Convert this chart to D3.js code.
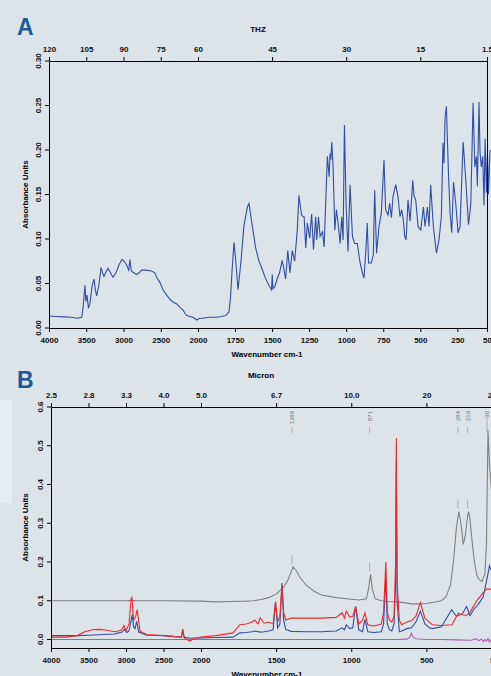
<!DOCTYPE html>
<html>
<head>
<meta charset="utf-8">
<script src="https://cdn.jsdelivr.net/npm/d3@7"></script>
<style>
  body { margin: 0; background: #dce3e9; }
  svg { display: block; font-family: "Liberation Sans", Arial, sans-serif; }
</style>
</head>
<body>
<svg id="chart" width="491" height="676"></svg>
<script>
// ---- panel A data (wavenumber cm-1, absorbance) ----
var aWave = [4000, 3900, 3800, 3700, 3620, 3560, 3540, 3517, 3505, 3490, 3470, 3450, 3420, 3396, 3375, 3360, 3330,
  3302, 3280, 3262, 3235, 3208, 3175, 3141, 3100, 3060, 3020, 2990, 2960, 2930, 2913, 2895, 2860, 2823, 2790, 2757,
  2700, 2622, 2580, 2555, 2510, 2470, 2420, 2376, 2330, 2286, 2240, 2201, 2170, 2152, 2110, 2067, 2017, 1990, 1971,
  1920, 1881, 1840, 1814, 1791, 1780, 1770, 1757, 1745, 1730, 1710, 1690, 1667, 1656, 1635, 1611, 1590, 1567, 1545,
  1522, 1504, 1499, 1494, 1480, 1466, 1450, 1432, 1420, 1409, 1394, 1380, 1364, 1348, 1330, 1319, 1301, 1290, 1284,
  1273, 1262, 1246, 1233, 1221, 1206, 1199, 1187, 1176, 1160, 1149, 1127, 1115, 1109, 1104, 1097, 1088, 1077, 1066,
  1055, 1041, 1030, 1021, 1012, 1001, 988, 974, 958, 943, 925, 907, 891, 880, 867, 858, 849, 831, 817, 808, 795,
  779, 763, 745, 734, 718, 707, 695, 684, 666, 651, 637, 626, 617, 605, 596, 583, 569, 551, 542, 531, 515, 497,
  479, 468, 452, 441, 430, 412, 391, 374, 358, 347, 340, 333, 324, 310, 299, 288, 276, 261, 245, 232, 211, 193,
  175, 159, 144, 132, 121, 115, 104, 97, 88, 79, 70, 63, 54, 47, 40, 30];
var aAbs = [0.0135, 0.013, 0.0125, 0.012, 0.011, 0.012, 0.025, 0.048, 0.03, 0.037, 0.022, 0.028, 0.048, 0.055, 0.042, 0.036, 0.048,
  0.068, 0.062, 0.058, 0.063, 0.067, 0.062, 0.057, 0.062, 0.071, 0.077, 0.075, 0.071, 0.065, 0.077, 0.064, 0.062, 0.060, 0.062, 0.065,
  0.065, 0.064, 0.062, 0.057, 0.051, 0.043, 0.037, 0.032, 0.029, 0.027, 0.023, 0.020, 0.016, 0.014, 0.013, 0.012, 0.009, 0.011, 0.011,
  0.012, 0.012, 0.013, 0.014, 0.018, 0.035, 0.065, 0.096, 0.075, 0.043, 0.075, 0.115, 0.136, 0.140, 0.116, 0.090, 0.076, 0.066, 0.056,
  0.048, 0.043, 0.060, 0.044, 0.047, 0.055, 0.062, 0.076, 0.066, 0.055, 0.087, 0.062, 0.087, 0.075, 0.11, 0.149, 0.127, 0.125, 0.125,
  0.090, 0.118, 0.101, 0.128, 0.088, 0.125, 0.099, 0.125, 0.103, 0.108, 0.091, 0.193, 0.170, 0.196, 0.189, 0.209, 0.178, 0.110, 0.133,
  0.118, 0.095, 0.125, 0.099, 0.228, 0.140, 0.086, 0.161, 0.103, 0.095, 0.095, 0.074, 0.062, 0.056, 0.088, 0.118, 0.073, 0.073, 0.082, 0.155, 0.084,
  0.114, 0.129, 0.189, 0.133, 0.127, 0.140, 0.124, 0.148, 0.161, 0.148, 0.125, 0.133, 0.125, 0.103, 0.099, 0.144, 0.120, 0.166, 0.148, 0.144, 0.114, 0.110,
  0.136, 0.114, 0.136, 0.114, 0.161, 0.114, 0.084, 0.099, 0.125, 0.208, 0.185, 0.236, 0.249, 0.174, 0.129, 0.107, 0.164, 0.140, 0.107, 0.114, 0.209, 0.166,
  0.116, 0.140, 0.253, 0.181, 0.193, 0.159, 0.254, 0.197, 0.181, 0.193, 0.138, 0.213, 0.152, 0.197, 0.15, 0.2];

// ---- panel A axis labels ----
var aWaveTicks = [4000, 3500, 3000, 2500, 2000, 1750, 1500, 1250, 1000, 750, 500, 250, 50];
var aThzTicks = [120, 105, 90, 75, 60, 45, 30, 15, 1.5];
var aAbsTicks = [0, 0.05, 0.10, 0.15, 0.20, 0.25, 0.30];

// ---- panel B axis labels ----
var bWaveTicks = [4000, 3500, 3000, 2500, 2000, 1500, 1000, 500, 50];
var bMicronLabels = ["2.5", "2.8", "3.3", "4.0", "5.0", "6.7", "10.0", "20", "200"];
var bAbsTicks = [0, 0.1, 0.2, 0.3, 0.4, 0.5, 0.6];
var bPeaks = [1388, 871, 284, 219, 90];

// ---- panel B spectra ----
var grayWave = [4000, 3500, 3000, 2925, 2850, 2500, 2000, 1900, 1800, 1700, 1650, 1600, 1550, 1500, 1450, 1420, 1400, 1388,
  1370, 1340, 1300, 1250, 1200, 1100, 1000, 950, 900, 885, 871, 860, 840, 800, 760, 700, 650, 600, 550, 500, 450,
  400, 370, 340, 320, 300, 284, 270, 255, 240, 225, 219, 210, 195, 180, 165, 150, 130, 110, 100, 90, 80, 60, 40];
var grayAbs = [0.1, 0.1, 0.1, 0.101, 0.1, 0.1, 0.099, 0.097, 0.098, 0.099, 0.1, 0.103, 0.108, 0.117, 0.135, 0.155, 0.175, 0.187,
  0.18, 0.16, 0.14, 0.125, 0.115, 0.108, 0.104, 0.102, 0.105, 0.13, 0.168, 0.13, 0.105, 0.1, 0.098, 0.097, 0.095, 0.092, 0.092, 0.093, 0.096,
  0.1, 0.11, 0.14, 0.2, 0.29, 0.33, 0.3, 0.245, 0.27, 0.32, 0.33, 0.31, 0.25, 0.2, 0.167, 0.155, 0.15, 0.17, 0.25, 0.54, 0.45, 0.35, 0.3];

var redWave = [4000, 3800, 3650, 3550, 3450, 3350, 3250, 3150, 3100, 3060, 3027, 3000, 2960, 2933, 2920, 2900, 2870, 2850,
  2813, 2724, 2500, 2260, 2244, 2225, 2147, 2100, 2000, 1900, 1786, 1742, 1698, 1660, 1643, 1620, 1606, 1580, 1550, 1520,
  1504, 1490, 1475, 1461, 1450, 1436, 1400, 1300, 1200, 1100, 1061, 1045, 1033, 1010, 990, 971, 950, 925, 909, 890, 850,
  800, 785, 770, 760, 745, 730, 715, 705, 700, 695, 680, 665, 630, 600, 570, 540, 510, 480, 460, 400, 330, 288, 260, 233, 210,
  180, 155, 122, 100, 70, 40];
var redAbs = [0.006, 0.006, 0.01, 0.02, 0.025, 0.026, 0.024, 0.02, 0.022, 0.025, 0.036, 0.022, 0.04, 0.103, 0.11, 0.05, 0.06, 0.077,
  0.021, 0.013, 0.01, 0.006, 0.026, 0.004, -0.004, 0.002, 0.006, 0.01, 0.017, 0.038, 0.04, 0.045, 0.05, 0.04, 0.056, 0.042, 0.045, 0.04,
  0.098, 0.045, 0.06, 0.14, 0.07, 0.05, 0.055, 0.055, 0.055, 0.057, 0.069, 0.055, 0.073, 0.058, 0.06, 0.085, 0.04, 0.05, 0.069, 0.038, 0.035,
  0.04, 0.07, 0.2, 0.07, 0.05, 0.045, 0.06, 0.2, 0.52, 0.15, 0.05, 0.038, 0.045, 0.048, 0.06, 0.095, 0.055, 0.045, 0.038, 0.036, 0.038, 0.068, 0.064, 0.062, 0.07,
  0.09, 0.105, 0.12, 0.13, 0.13, 0.12];

var blueWave = [4000, 3800, 3650, 3500, 3300, 3150, 3100, 3060, 3020, 2990, 2960, 2916, 2900, 2880, 2858, 2830, 2724, 2500,
  2260, 2244, 2225, 2147, 2100, 2000, 1900, 1786, 1742, 1698, 1660, 1643, 1606, 1580, 1550, 1520, 1504, 1490, 1475, 1461,
  1450, 1436, 1400, 1300, 1200, 1100, 1061, 1045, 1033, 1010, 990, 971, 950, 925, 909, 890, 850, 800, 785, 770, 760, 745,
  730, 715, 705, 700, 695, 680, 665, 630, 600, 570, 540, 510, 480, 460, 400, 332, 300, 288, 260, 233, 210, 180, 155, 122,
  100, 80, 60, 40];
var blueAbs = [0.01, 0.01, 0.01, 0.011, 0.013, 0.014, 0.017, 0.018, 0.026, 0.018, 0.022, 0.064, 0.033, 0.028, 0.047, 0.019, 0.011, 0.01,
  0.006, 0.026, 0.006, 0.003, 0.004, 0.004, 0.005, 0.006, 0.017, 0.018, 0.02, 0.022, 0.019, 0.02, 0.022, 0.025, 0.095, 0.03, 0.04, 0.146,
  0.05, 0.026, 0.021, 0.02, 0.02, 0.022, 0.03, 0.025, 0.038, 0.028, 0.03, 0.085, 0.025, 0.02, 0.052, 0.02, 0.018, 0.02, 0.04, 0.16, 0.04, 0.025,
  0.022, 0.04, 0.15, 0.46, 0.1, 0.02, 0.022, 0.028, 0.03, 0.045, 0.073, 0.04, 0.03, 0.028, 0.033, 0.077, 0.06, 0.062, 0.066, 0.085, 0.062, 0.08, 0.09, 0.11,
  0.15, 0.19, 0.17, 0.15];

var purpleWave = [4000, 3000, 2000, 1500, 1000, 700, 630, 610, 600, 590, 570, 500, 400, 300, 200, 170, 150, 135, 120, 110, 100, 90, 80, 70, 60, 50, 40];
var purpleAbs = [0.0, 0.0, 0.0, 0.0, 0.0, 0.0, 0.001, 0.006, 0.016, 0.006, 0.002, 0.0, 0.0, -0.001, -0.002, 0.002, -0.003, 0.001, -0.006, 0.0, -0.004, 0.003, -0.007, 0.0, -0.005, 0.002, -0.006];

var svg = d3.select("#chart");

svg.append("rect").attr("x", 0).attr("y", 400).attr("width", 12).attr("height", 103).attr("fill", "#e7ecf0");

function panel(opt) {
  var g = svg.append("g");
  var x = d3.scaleLinear().domain([4000, 2000, 50]).range(opt.xr);
  var y = d3.scaleLinear().domain(opt.yd).range(opt.yr);

  // title letter
  g.append("text").attr("x", 17).attr("y", opt.letterY).text(opt.letter)
    .attr("font-size", 23).attr("font-weight", "bold").attr("fill", "#1c5a97");

  var clipId = "clip" + opt.letter;
  svg.append("clipPath").attr("id", clipId).append("rect")
    .attr("x", opt.xr[0]).attr("y", opt.yr[1]).attr("width", 491 - opt.xr[0]).attr("height", opt.yr[0] - opt.yr[1]);

  var line = d3.line().x(function(d) { return x(d[0]); }).y(function(d) { return y(d[1]); });
  opt.series.forEach(function(s) {
    g.append("path").datum(d3.zip(s.wave, s.abs)).attr("d", line)
      .attr("fill", "none").attr("stroke", s.color).attr("stroke-width", 1.1)
      .attr("clip-path", "url(#" + clipId + ")");
  });

  var bottom = g.append("g").attr("transform", "translate(0," + opt.yr[0] + ")")
    .call(d3.axisBottom(x).tickValues(opt.waveTicks).tickSize(4).tickSizeOuter(0).tickFormat(d3.format("d")));
  var top = g.append("g").attr("transform", "translate(0," + opt.yr[1] + ")")
    .call(d3.axisTop(x).tickValues(opt.topTicks).tickSize(4).tickSizeOuter(0).tickFormat(function(d, i) { return opt.topLabels[i]; }));
  var left = g.append("g").attr("transform", "translate(" + opt.xr[0] + ",0)")
    .call(d3.axisLeft(y).tickValues(opt.absTicks).tickSize(4).tickSizeOuter(0).tickFormat(d3.format(opt.fmt)));
  g.append("line").attr("x1", opt.xr[2] + 0.5).attr("x2", opt.xr[2] + 0.5).attr("y1", opt.yr[1] - 4).attr("y2", opt.yr[0])
    .attr("stroke", "#000");

  [bottom, top, left].forEach(function(a) {
    a.selectAll("text").attr("font-size", 8).attr("font-weight", "bold").attr("fill", "#111")
      .attr("font-family", "Liberation Sans, Arial, sans-serif");
    a.selectAll("line,path").attr("stroke", "#000");
  });
  bottom.selectAll("text").attr("dy", "0.95em");
  top.selectAll("text").attr("dy", "-0.2em");
  left.selectAll(".tick").attr("transform", null);
  left.selectAll(".tick line").attr("y1", function(d) { return y(d); }).attr("y2", function(d) { return y(d); });
  left.selectAll("text").attr("text-anchor", "middle").attr("dy", 0)
    .attr("transform", "rotate(-90)")
    .each(function(d) { d3.select(this).attr("x", -y(d)).attr("y", -8); });

  g.append("text").attr("x", opt.topTitleX).attr("y", opt.yr[1] - 29).text(opt.topTitle)
    .attr("font-size", 8).attr("font-weight", "bold").attr("text-anchor", "middle");
  g.append("text").attr("x", 267).attr("y", opt.yr[0] + 29).text("Wavenumber cm-1")
    .attr("font-size", 8).attr("font-weight", "bold").attr("text-anchor", "middle");
  g.append("text").attr("transform", "translate(28," + ((opt.yr[0] + opt.yr[1]) / 2) + ") rotate(-90)")
    .text("Absorbance Units").attr("font-size", 8).attr("font-weight", "bold").attr("text-anchor", "middle");

  return { x: x, y: y, g: g };
}

panel({
  letter: "A", letterY: 35, xr: [49, 198, 487], yd: [0, 0.30], yr: [328, 61],
  waveTicks: aWaveTicks, topTicks: aThzTicks.map(function(t) { return t * 100 / 3; }),
  topLabels: aThzTicks.map(String), absTicks: aAbsTicks, fmt: ".2f",
  topTitle: "THZ", topTitleX: 258,
  series: [{ wave: aWave, abs: aAbs, color: "#2f4ea6" }]
});

var pb = panel({
  letter: "B", letterY: 388, xr: [51, 201, 494], yd: [-0.022, 0.6], yr: [648, 407],
  waveTicks: bWaveTicks, topTicks: bWaveTicks, topLabels: bMicronLabels,
  absTicks: bAbsTicks, fmt: ".1f", topTitle: "Micron", topTitleX: 261,
  series: [
    { wave: grayWave, abs: grayAbs, color: "#808080" },
    { wave: purpleWave, abs: purpleAbs, color: "#b05cb5" },
    { wave: blueWave, abs: blueAbs, color: "#2f4ea6" },
    { wave: redWave, abs: redAbs, color: "#ee2b2b" }
  ]
});

// peak labels on the gray spectrum
var peakG = pb.g.selectAll(".peak").data(bPeaks).enter().append("g")
  .attr("transform", function(d) { return "translate(" + (pb.x(d) - 1) + ",0)"; });
peakG.append("text").attr("transform", "translate(2,411) rotate(-90)").attr("text-anchor", "end")
  .attr("font-size", 6).attr("fill", "#777").text(function(d) { return d; });
peakG.append("line").attr("y1", 427).attr("y2", 433).attr("stroke", "#999").attr("stroke-width", 0.7);
peakG.append("line")
  .attr("y1", function(d) { return pb.y(grayAbs[grayWave.indexOf(d)]) - 12; })
  .attr("y2", function(d) { return pb.y(grayAbs[grayWave.indexOf(d)]) - 3; })
  .attr("stroke", "#999").attr("stroke-width", 0.7);
</script>
</body>
</html>
